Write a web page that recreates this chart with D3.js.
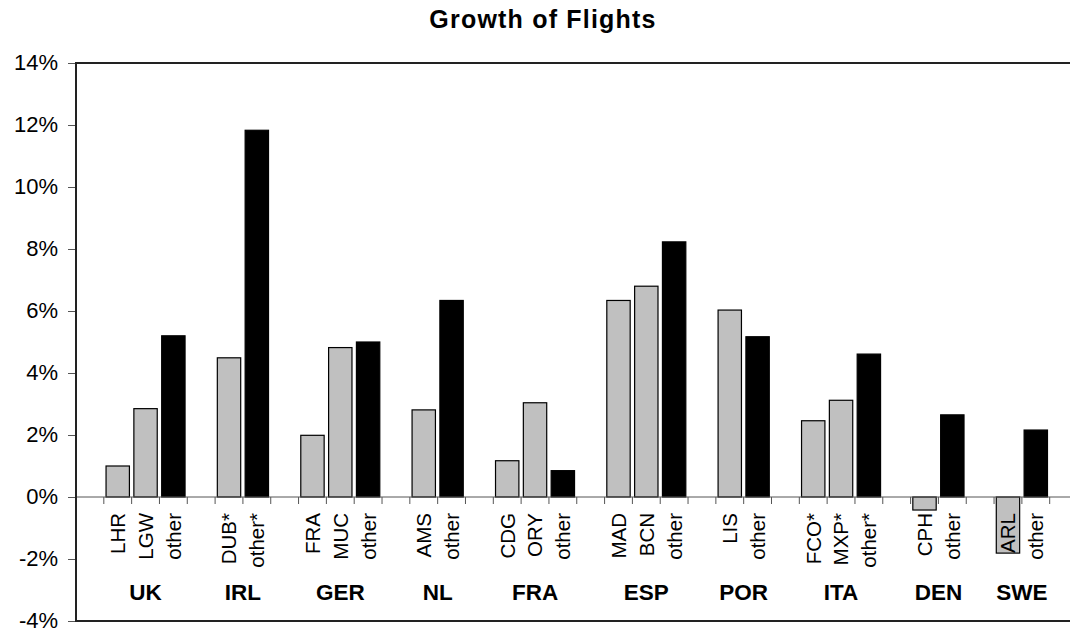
<!DOCTYPE html>
<html>
<head>
<meta charset="utf-8">
<script src="https://cdn.jsdelivr.net/npm/d3@7"></script>
<style>
  body { margin: 0; background: #fff; }
  svg { font-family: "Liberation Sans", Arial, sans-serif; }
</style>
</head>
<body>
<div id="chart"></div>
<script>
// countries (outer category level)
var countries = ["UK", "IRL", "GER", "NL", "FRA", "ESP", "POR", "ITA", "DEN", "SWE"];
// airports (inner category level), with the country each belongs to
var airports = ["LHR", "LGW", "other", "DUB*", "other*", "FRA", "MUC", "other", "AMS", "other",
                "CDG", "ORY", "other", "MAD", "BCN", "other", "LIS", "other",
                "FCO*", "MXP*", "other*", "CPH", "other", "ARL", "other"];
var airportCountry = ["UK", "UK", "UK", "IRL", "IRL", "GER", "GER", "GER", "NL", "NL",
                      "FRA", "FRA", "FRA", "ESP", "ESP", "ESP", "POR", "POR",
                      "ITA", "ITA", "ITA", "DEN", "DEN", "SWE", "SWE"];
// growth of flights, in percent
var growth = [1.0, 2.85, 5.2, 4.49, 11.83, 1.99, 4.82, 5.0, 2.81, 6.34,
              1.17, 3.04, 0.85, 6.34, 6.8, 8.23, 6.03, 5.17,
              2.46, 3.12, 4.61, -0.42, 2.65, -1.81, 2.16];
var yTicks = [-4, -2, 0, 2, 4, 6, 8, 10, 12, 14];

function init() {
    var w = 1070, h = 632;
    var left = 76, top = 63, bottom = 621;

    // one slot per airport, plus a blank slot before each country and one at the end
    var slots = [];
    countries.forEach(function(c) {
        slots.push({ id: "gap-" + c });
        airports.forEach(function(a, i) {
            if (airportCountry[i] === c) {
                slots.push({ id: c + "-" + i, label: a, value: growth[i], country: c });
            }
        });
    });
    slots.push({ id: "gap-end" });

    var xScale = d3.scaleBand()
                    .domain(slots.map(function(d) { return d.id; }))
                    .range([left, left + 27.82 * slots.length])
                    .padding(0);
    var bw = xScale.bandwidth();

    var yScale = d3.scaleLinear()
                    .domain([-4, 14])
                    .range([bottom, top]);

    var svg = d3.select("#chart")
                .append("svg")
                .attr("width", w)
                .attr("height", h);

    // title
    svg.append("text")
        .attr("x", 543)
        .attr("y", 28)
        .attr("text-anchor", "middle")
        .attr("font-size", "25px")
        .attr("letter-spacing", "1.2px")
        .attr("font-weight", "bold")
        .text("Growth of Flights");

    var plotRight = xScale.range()[1];

    // y axis ticks + labels
    var yAxis = d3.axisLeft(yScale)
                    .tickValues(yTicks)
                    .tickSize(8)
                    .tickPadding(10)
                    .tickFormat(function(d) { return d + "%"; });
    var gy = svg.append("g")
        .attr("transform", "translate(" + left + ",0)")
        .call(yAxis);
    gy.select(".domain").remove();
    gy.selectAll(".tick line").attr("stroke", "#555");
    gy.selectAll("text")
        .attr("font-size", "22px")
        .attr("dy", "0.28em")
        .attr("font-family", "Liberation Sans, Arial, sans-serif")
        .attr("fill", "#000");

    var bars = slots.filter(function(d) { return d.label !== undefined; });

    // bars
    svg.selectAll("rect.bar")
        .data(bars)
        .enter()
        .append("rect")
        .attr("class", "bar")
        .attr("x", function(d) { return xScale(d.id) + bw * 0.08; })
        .attr("width", bw * 0.84)
        .attr("y", function(d) { return yScale(Math.max(0, d.value)); })
        .attr("height", function(d) { return Math.abs(yScale(d.value) - yScale(0)); })
        .attr("fill", function(d) { return d.label.indexOf("other") === 0 ? "#000" : "#c0c0c0"; })
        .attr("stroke", "#000")
        .attr("stroke-width", 1.2);

    // zero line with ticks at each slot boundary
    svg.append("line")
        .attr("x1", left).attr("x2", plotRight)
        .attr("y1", yScale(0)).attr("y2", yScale(0))
        .attr("stroke", "#555");
    svg.selectAll("line.xtick")
        .data(slots.slice(1))
        .enter()
        .append("line")
        .attr("class", "xtick")
        .attr("x1", function(d) { return xScale(d.id); })
        .attr("x2", function(d) { return xScale(d.id); })
        .attr("y1", yScale(0))
        .attr("y2", yScale(0) + 7)
        .attr("stroke", "#555");

    // frame: left, top, bottom
    svg.append("path")
        .attr("d", "M" + plotRight + "," + top + "H" + left + "V" + bottom + "H" + plotRight)
        .attr("fill", "none")
        .attr("stroke", "#222")
        .attr("stroke-width", 2);

    // airport labels (rotated)
    svg.selectAll("text.airport")
        .data(bars)
        .enter()
        .append("text")
        .attr("class", "airport")
        .attr("transform", function(d) {
            return "translate(" + (xScale(d.id) + bw / 2) + ",513) rotate(-90)";
        })
        .attr("dy", "0.36em")
        .attr("text-anchor", "end")
        .attr("font-size", "20.5px")
        .text(function(d) { return d.label; });

    // country labels, centred under their airports
    svg.selectAll("text.country")
        .data(countries)
        .enter()
        .append("text")
        .attr("class", "country")
        .attr("x", function(c) {
            var own = bars.filter(function(d) { return d.country === c; });
            var x0 = xScale(own[0].id);
            var x1 = xScale(own[own.length - 1].id) + bw;
            return (x0 + x1) / 2;
        })
        .attr("y", 600)
        .attr("text-anchor", "middle")
        .attr("font-size", "22.5px")
        .attr("font-weight", "bold")
        .text(function(c) { return c; });
}

window.onload = init;
</script>
</body>
</html>
